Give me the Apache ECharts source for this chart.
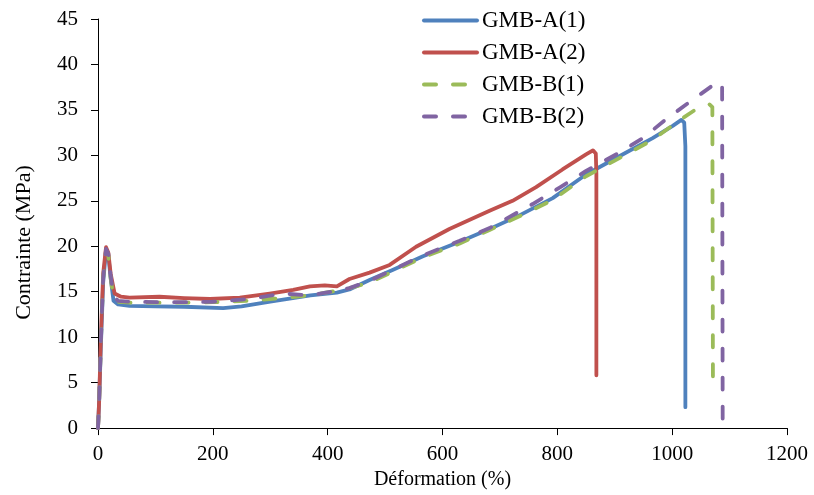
<!DOCTYPE html>
<html>
<head>
<meta charset="utf-8">
<script src="https://cdn.jsdelivr.net/npm/echarts@6/dist/echarts.min.js"></script>
<style>html,body{margin:0;padding:0;background:#fff}#c{width:814px;height:495px}</style>
</head>
<body>
<div id="c"></div>
<script>
var seriesNames = ['GMB-A(1)', 'GMB-A(2)', 'GMB-B(1)', 'GMB-B(2)'];
var xTicks = [0, 200, 400, 600, 800, 1000, 1200];
var yTicks = [0, 5, 10, 15, 20, 25, 30, 35, 40, 45];

var strainA1 = [0, 2, 5, 9, 14, 18, 22, 27, 35, 55, 100, 150, 218, 250, 300, 370, 416, 438, 473, 513, 566, 630, 682, 734, 792, 850, 908, 966, 1001, 1016, 1021, 1023, 1023];
var stressA1 = [0, 3, 9, 16, 19.6, 19, 16.5, 14, 13.6, 13.45, 13.4, 13.35, 13.2, 13.4, 13.9, 14.6, 14.9, 15.25, 16.3, 17.4, 18.9, 20.5, 21.9, 23.4, 25.3, 27.9, 29.9, 31.9, 33.25, 33.9, 33.6, 31, 2.3];

var strainA2 = [0, 2, 5, 9, 14, 18, 22, 29, 40, 55, 107, 150, 195, 247, 299, 340, 369, 395, 416, 438, 473, 508, 554, 612, 682, 722, 763, 809, 850, 862, 867, 868, 868];
var stressA2 = [0, 3, 10, 17, 19.9, 19.3, 17, 14.8, 14.45, 14.35, 14.45, 14.3, 14.2, 14.35, 14.8, 15.2, 15.6, 15.7, 15.6, 16.4, 17.1, 17.95, 19.95, 21.9, 23.9, 25, 26.5, 28.45, 30.1, 30.55, 30.2, 28, 5.8];

var strainB1 = [0, 2, 5, 9, 14, 18, 22, 27, 35, 55, 107, 150, 200, 264, 299, 322, 369, 416, 438, 473, 513, 566, 630, 682, 734, 792, 850, 908, 966, 1007, 1042, 1065, 1070, 1071];
var stressB1 = [0, 3, 9.5, 16.5, 19.5, 19, 16.5, 14.3, 13.9, 13.8, 13.8, 13.8, 13.85, 14.0, 14.2, 14.3, 14.6, 15.1, 15.4, 16.0, 17.2, 18.8, 20.3, 21.8, 23.3, 25.1, 27.7, 29.7, 31.7, 33.6, 35.1, 35.6, 35.3, 5.5];

var strainB2 = [0, 2, 5, 9, 14, 18, 22, 27, 35, 55, 107, 150, 200, 264, 322, 369, 416, 438, 473, 513, 566, 630, 682, 757, 804, 850, 908, 949, 990, 1030, 1074, 1083, 1087, 1088];
var stressB2 = [0, 3, 9.5, 16.5, 19.7, 19.2, 16.8, 14.5, 14.0, 13.9, 13.85, 13.85, 13.9, 14.2, 14.8, 14.6, 15.1, 15.4, 16.2, 17.4, 19.0, 20.6, 22.0, 24.65, 26.45, 28.3, 30.3, 31.9, 34.0, 35.85, 37.85, 38.1, 37.7, 0.3];

var colors = ['#4F81BD', '#C0504D', '#9BBB59', '#8064A2'];
var font = '"Liberation Serif", "Times New Roman", serif';

function pairs(xs, ys) { return xs.map(function (x, i) { return [x, ys[i]]; }); }
var allData = [pairs(strainA1, stressA1), pairs(strainA2, stressA2), pairs(strainB1, stressB1), pairs(strainB2, stressB2)];
var dashed = [false, false, true, true];

var chart = echarts.init(document.getElementById('c'), null, {renderer: 'canvas'});
chart.setOption({
  animation: false,
  backgroundColor: '#fff',
  grid: {left: 98, right: 27, top: 19, bottom: 61, containLabel: false},
  legend: {
    orient: 'vertical', left: 417, top: 4,
    itemWidth: 53, itemHeight: 14, itemGap: 9,
    itemStyle: {opacity: 0},
    lineStyle: {width: 4, cap: 'round'},
    textStyle: {fontFamily: font, fontSize: 23, color: '#000', lineHeight: 22},
    data: seriesNames
  },
  xAxis: {
    type: 'value', min: xTicks[0], max: xTicks[xTicks.length - 1], interval: 200,
    name: 'Déformation (%)', nameLocation: 'middle', nameGap: 38,
    nameTextStyle: {fontFamily: font, fontSize: 20, color: '#000'},
    axisLine: {show: true, lineStyle: {color: '#000', width: 1}},
    axisTick: {show: true, length: 7, lineStyle: {color: '#000'}},
    axisLabel: {fontFamily: font, fontSize: 21, color: '#000', margin: 16, formatter: function (v) { return String(v); }},
    splitLine: {show: false}
  },
  yAxis: {
    type: 'value', min: yTicks[0], max: yTicks[yTicks.length - 1], interval: 5,
    name: 'Contrainte (MPa)', nameLocation: 'middle', nameGap: 63, nameRotate: 90,
    nameTextStyle: {fontFamily: font, fontSize: 22, color: '#000', padding: [0, 38, 0, 0]},
    axisLine: {show: true, lineStyle: {color: '#000', width: 1}},
    axisTick: {show: true, length: 7, lineStyle: {color: '#000'}},
    axisLabel: {fontFamily: font, fontSize: 21, color: '#000', margin: 20},
    splitLine: {show: false}
  },
  series: seriesNames.map(function (n, i) {
    return {
      name: n, type: 'line', data: allData[i], showSymbol: false, symbol: 'none',
      smooth: false, clip: false,
      color: colors[i],
      lineStyle: {color: colors[i], width: 3.8, type: dashed[i] ? [12, 17] : 'solid', cap: 'round', join: 'round'},
      z: i === 3 ? 5 : (i === 2 ? 4 : 3)
    };
  })
});
</script>
</body>
</html>
